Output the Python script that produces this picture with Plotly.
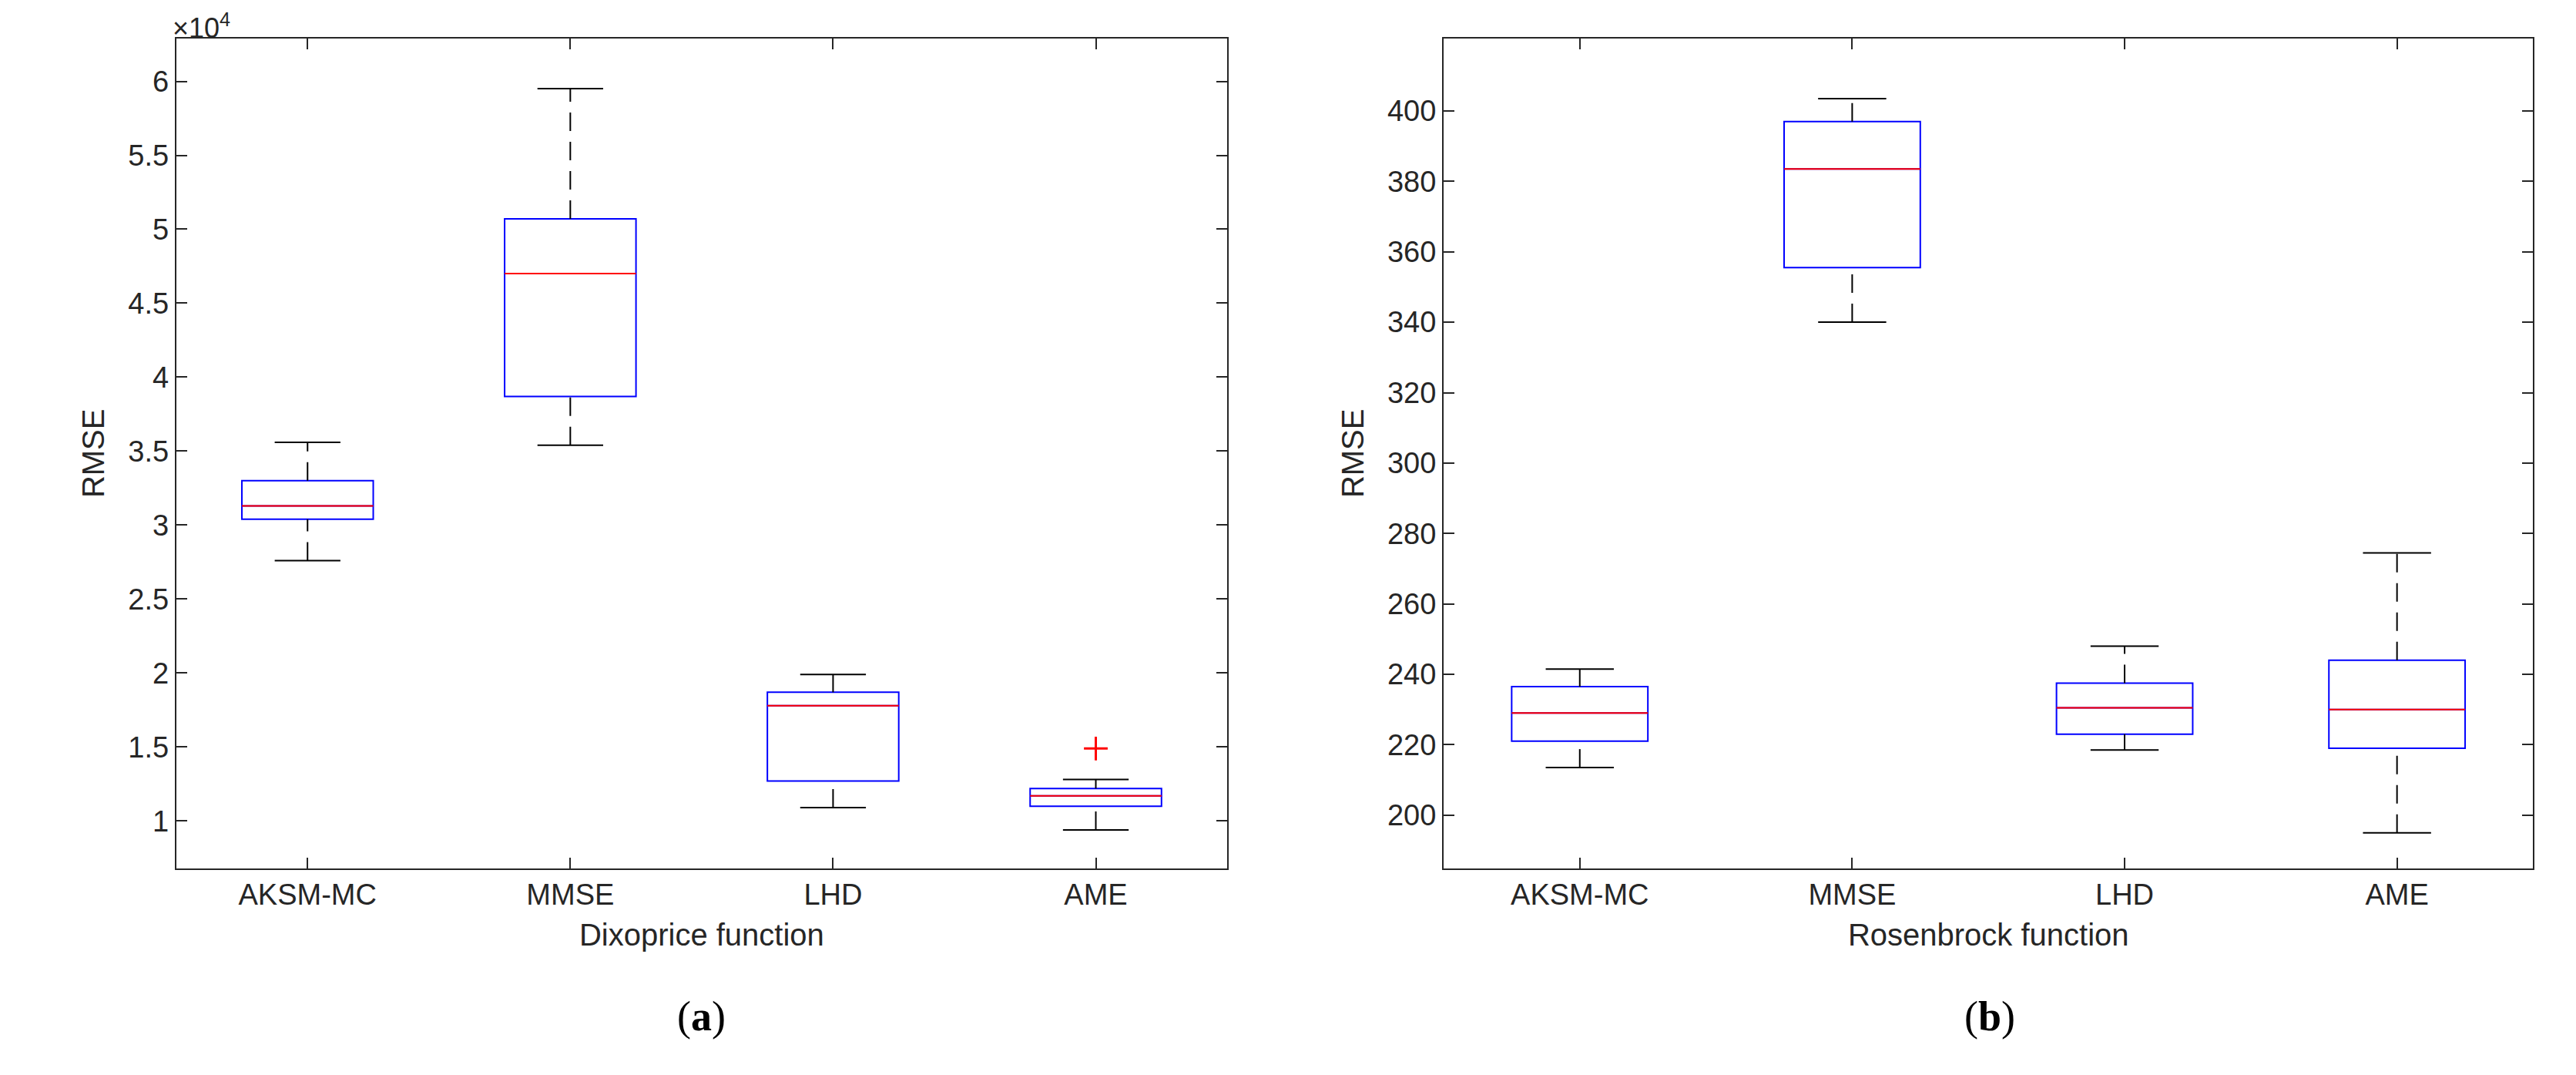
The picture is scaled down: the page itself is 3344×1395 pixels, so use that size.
import plotly.graph_objects as go

# category labels
methods = ["AKSM-MC", "MMSE", "LHD", "AME"]
pos = [1, 2, 3, 4]

# (a) Dixoprice, units of 1e4
dix_low = [2.76, 3.54, 1.09, 0.94]
dix_q1 = [3.04, 3.87, 1.27, 1.10]
dix_med = [3.13, 4.70, 1.78, 1.17]
dix_q3 = [3.30, 5.07, 1.87, 1.22]
dix_high = [3.56, 5.95, 1.99, 1.28]
dix_out_x = [4]
dix_out_y = [1.49]

# (b) Rosenbrock
ros_low = [213.5, 340.0, 218.5, 195.0]
ros_q1 = [221.0, 355.5, 223.0, 219.0]
ros_med = [229.0, 383.5, 230.5, 230.0]
ros_q3 = [236.5, 397.0, 237.5, 244.0]
ros_high = [241.5, 403.5, 248.0, 274.5]

fig = go.Figure()
FONT = "Liberation Sans"
hw, cw = 0.25, 0.125


def add_panel(xa, ya, low, q1, med, q3, high):
    fig.add_trace(go.Box(x=pos, q1=q1, median=med, q3=q3, lowerfence=q1, upperfence=q3,
                         width=0.5, line=dict(color="blue", width=2), fillcolor="rgba(0,0,0,0)",
                         whiskerwidth=0, xaxis=xa, yaxis=ya, showlegend=False, boxpoints=False))
    wx, wy, cx, cy, mx, my = [], [], [], [], [], []
    for p, lo, a, m, b, hi in zip(pos, low, q1, med, q3, high):
        wx += [p, p, None, p, p, None]
        wy += [lo, a, None, b, hi, None]
        cx += [p - cw, p + cw, None, p - cw, p + cw, None]
        cy += [lo, lo, None, hi, hi, None]
        mx += [p - hw, p + hw, None]
        my += [m, m, None]
    fig.add_trace(go.Scatter(x=wx, y=wy, mode="lines", line=dict(color="black", width=2, dash="24px,14px"),
                             xaxis=xa, yaxis=ya, showlegend=False))
    fig.add_trace(go.Scatter(x=cx, y=cy, mode="lines", line=dict(color="black", width=2),
                             xaxis=xa, yaxis=ya, showlegend=False))
    fig.add_trace(go.Scatter(x=mx, y=my, mode="lines", line=dict(color="red", width=2),
                             xaxis=xa, yaxis=ya, showlegend=False))


add_panel("x", "y", dix_low, dix_q1, dix_med, dix_q3, dix_high)
fig.add_trace(go.Scatter(x=dix_out_x, y=dix_out_y, mode="markers",
                         marker=dict(symbol="cross-thin", size=22, line=dict(color="red", width=3)),
                         showlegend=False))
add_panel("x2", "y2", ros_low, ros_q1, ros_med, ros_q3, ros_high)

axis_common = dict(showline=True, linecolor="#262626", linewidth=2, mirror="ticks", ticks="inside",
                   ticklen=14, tickwidth=2, tickcolor="#262626", showgrid=False, zeroline=False,
                   tickfont=dict(family=FONT, size=38, color="#262626"))
xcommon = dict(axis_common, range=[0.5, 4.5], tickvals=pos, ticktext=methods)
tfont = dict(family=FONT, size=40, color="#262626")

fig.update_layout(
    width=3344, height=1395, plot_bgcolor="white", paper_bgcolor="white",
    margin=dict(l=0, r=0, t=0, b=0),
    xaxis=dict(xcommon, domain=[0.066, 0.474], anchor="y",
               title=dict(text="Dixoprice function", font=tfont, standoff=18)),
    yaxis=dict(axis_common, domain=[0.198, 0.97], range=[0.68, 6.29], anchor="x",
               tickvals=[1, 1.5, 2, 2.5, 3, 3.5, 4, 4.5, 5, 5.5, 6],
               ticktext=["1", "1.5", "2", "2.5", "3", "3.5", "4", "4.5", "5", "5.5", "6"],
               title=dict(text="RMSE", font=tfont, standoff=18)),
    xaxis2=dict(xcommon, domain=[0.558, 0.981], anchor="y2",
                title=dict(text="Rosenbrock function", font=tfont, standoff=18)),
    yaxis2=dict(axis_common, domain=[0.198, 0.97], range=[184.9, 420.6], anchor="x2",
                tickvals=list(range(200, 401, 20)),
                title=dict(text="RMSE", font=tfont, standoff=18)),
)

fig.add_annotation(text="×10<sup>4</sup>", xref="paper", yref="paper", x=0.064, y=0.999,
                   xanchor="left", yanchor="top", showarrow=False,
                   font=dict(family=FONT, size=36, color="#262626"))
fig.add_annotation(text="(<b>a</b>)", xref="paper", yref="paper", x=0.27, y=0.06,
                   xanchor="center", yanchor="middle", showarrow=False,
                   font=dict(family="Liberation Serif", size=54, color="black"))
fig.add_annotation(text="(<b>b</b>)", xref="paper", yref="paper", x=0.77, y=0.06,
                   xanchor="center", yanchor="middle", showarrow=False,
                   font=dict(family="Liberation Serif", size=54, color="black"))

fig.write_html("out.html")
